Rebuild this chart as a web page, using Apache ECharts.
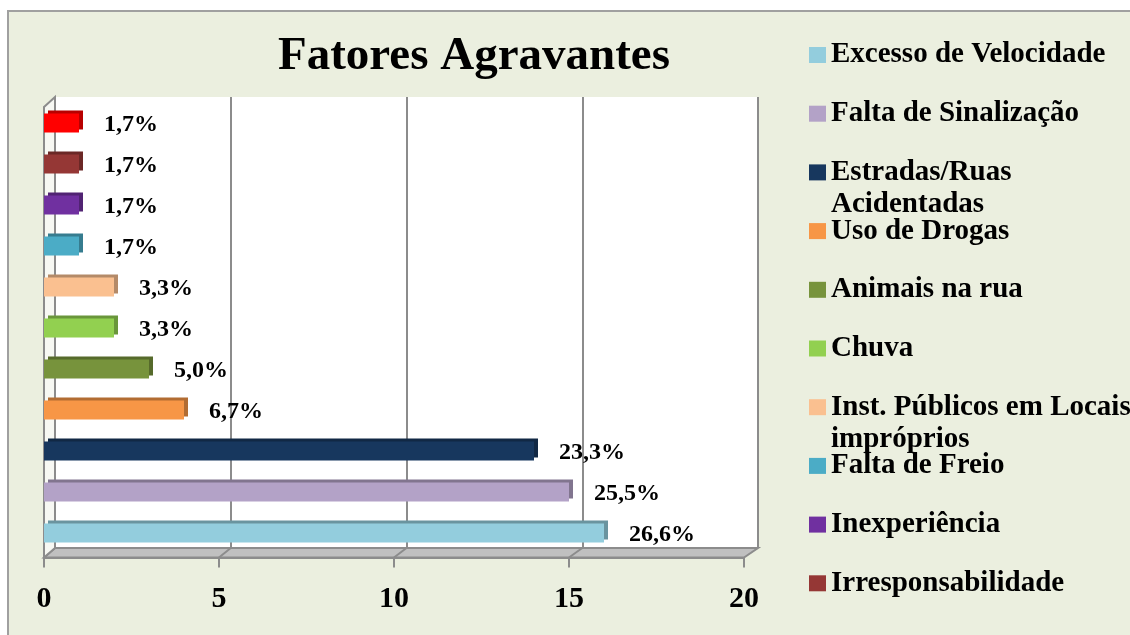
<!DOCTYPE html>
<html>
<head>
<meta charset="utf-8">
<script src="https://cdn.jsdelivr.net/npm/echarts@6/dist/echarts.min.js"></script>
<style>
  html, body { margin: 0; padding: 0; background: #fff; }
  #frame { position: absolute; left: 7px; top: 10px; width: 1130px; height: 630px;
           background: #ebefdf; border-left: 2px solid #a0a0a0; border-top: 2px solid #a0a0a0; }
  #chart { position: absolute; left: 0; top: 0; width: 1130px; height: 635px; }
</style>
</head>
<body>
<div id="frame"></div>
<div id="chart"></div>
<script>
  'use strict'

  // categorias de baixo para cima
  var categorias = [
    'Excesso de Velocidade',
    'Falta de Sinalização',
    'Estradas/Ruas Acidentadas',
    'Uso de Drogas',
    'Animais na rua',
    'Chuva',
    'Inst. Públicos em Locais impróprios',
    'Falta de Freio',
    'Inexperiência',
    'Irresponsabilidade',
    'Outros'
  ];
  var valores = [16, 15, 14, 4, 3, 2, 2, 1, 1, 1, 1];
  var rotulos = ['26,6%', '25,5%', '23,3%', '6,7%', '5,0%', '3,3%', '3,3%', '1,7%', '1,7%', '1,7%', '1,7%'];
  var cores = ['#93cddd', '#b3a2c7', '#17375e', '#f79646', '#77933c', '#92d050',
               '#fac090', '#4bacc6', '#7030a0', '#953735', '#ff0000'];
  var eixoX = { min: 0, max: 20, interval: 5 };

  var fonte = '"Liberation Serif", "Times New Roman", serif';

  function escurecer(hex, f) {
    var n = parseInt(hex.slice(1), 16);
    var r = Math.round(((n >> 16) & 255) * f);
    var g = Math.round(((n >> 8) & 255) * f);
    var b = Math.round((n & 255) * f);
    return 'rgb(' + r + ',' + g + ',' + b + ')';
  }

  // linha vazia no topo para o ícone ficar alinhado com a primeira linha
  var quebras = {
    'Estradas/Ruas Acidentadas': '\nEstradas/Ruas\nAcidentadas',
    'Inst. Públicos em Locais impróprios': '\nInst. Públicos em Locais\nimpróprios'
  };

  /*---- legendas (uma por item) ----*/
  var legendas = [];
  for (var i = 0; i < 10; i++) {
    var nome = categorias[i];
    var centro = 55 + i * 58.7;
    var duas = !!quebras[nome];
    legendas.push({
      data: [nome],
      orient: 'vertical',
      left: 809,
      top: duas ? centro - 48 : centro - 16,
      padding: 0,
      itemWidth: 17,
      itemHeight: 16,
      icon: 'rect',
      selectedMode: false,
      formatter: function (n) { return quebras[n] || n; },
      textStyle: {
        fontFamily: fonte,
        fontWeight: 'bold',
        fontSize: 29,
        lineHeight: 32,
        color: '#000'
      }
    });
  }

  var series = categorias.map(function (nome, i) {
    return {
      name: nome,
      type: 'bar',
      stack: 'total',
      barWidth: 19,
      xAxisIndex: 0,
      yAxisIndex: 0,
      data: valores.map(function (v, j) { return j === i ? v : '-'; }),
      itemStyle: {
        color: cores[i],
        shadowColor: escurecer(cores[i], 0.72),
        shadowOffsetX: 4,
        shadowOffsetY: -3,
        shadowBlur: 0
      },
      label: {
        show: true,
        position: 'right',
        distance: 25,
        offset: [0, 2],
        formatter: function (p) { return rotulos[p.dataIndex]; },
        fontFamily: fonte,
        fontWeight: 'bold',
        fontSize: 24,
        color: '#000'
      }
    };
  });

  var option = {
    animation: false,
    title: {
      text: 'Fatores Agravantes',
      left: 278,
      top: 33,
      padding: 0,
      textStyle: { fontFamily: fonte, fontWeight: 'bold', fontSize: 47, color: '#000' }
    },
    legend: legendas,
    grid: [
      { left: 44, right: 386, top: 102.5, bottom: 81.5, z: 3 },
      { left: 55, right: 372, top: 97, bottom: 87, show: true, backgroundColor: '#fff', borderWidth: 0, z: 0 }
    ],
    xAxis: [
      {
        gridIndex: 0,
        type: 'value',
        min: eixoX.min,
        max: eixoX.max,
        interval: eixoX.interval,
        offset: 4,
        axisLine: { show: true, lineStyle: { color: '#8c8c8c', width: 2 } },
        axisTick: { show: true, length: 10, lineStyle: { color: '#8c8c8c', width: 2 } },
        splitLine: { show: false },
        axisLabel: { margin: 27, fontFamily: fonte, fontWeight: 'bold', fontSize: 30, color: '#000' }
      },
      {
        gridIndex: 1,
        type: 'value',
        min: eixoX.min,
        max: eixoX.max,
        interval: eixoX.interval,
        axisLine: { show: false },
        axisTick: { show: false },
        axisLabel: { show: false },
        splitLine: { show: true, lineStyle: { color: '#8c8c8c', width: 2 } }
      }
    ],
    yAxis: [
      {
        gridIndex: 0,
        type: 'category',
        data: categorias,
        axisLine: { show: false },
        axisTick: { show: false },
        axisLabel: { show: false }
      },
      {
        gridIndex: 1,
        type: 'category',
        data: [''],
        axisLine: { show: false },
        axisTick: { show: false },
        axisLabel: { show: false }
      }
    ],
    series: series
  };

  var chart = echarts.init(document.getElementById('chart'));
  chart.setOption(option);

  /*---- piso e parede lateral (efeito 3D) ----*/
  var yFrente = 635 - 81.5 + 4;
  var yFundo = 635 - 87;
  function xf(v) { return chart.convertToPixel({ xAxisIndex: 0 }, v); }
  function xb(v) { return chart.convertToPixel({ xAxisIndex: 1 }, v); }

  var graficos = [
    {
      type: 'polygon', z: 1,
      shape: { points: [[xf(0), yFrente], [xb(0), yFundo], [xb(20), yFundo], [xf(20), yFrente]] },
      style: { fill: '#c0c0c0', stroke: '#8c8c8c', lineWidth: 2 }
    },
    {
      type: 'polygon', z: 1,
      shape: { points: [[xf(0), 107], [xb(0), 97], [xb(0), yFundo], [xf(0), yFrente]] },
      style: { fill: '#f7f8f3', stroke: '#8c8c8c', lineWidth: 2 }
    }
  ];
  [5, 10, 15].forEach(function (v) {
    graficos.push({
      type: 'line', z: 1,
      shape: { x1: xf(v), y1: yFrente, x2: xb(v), y2: yFundo },
      style: { stroke: '#8c8c8c', lineWidth: 2 }
    });
  });
  chart.setOption({ graphic: graficos });
</script>
</body>
</html>
